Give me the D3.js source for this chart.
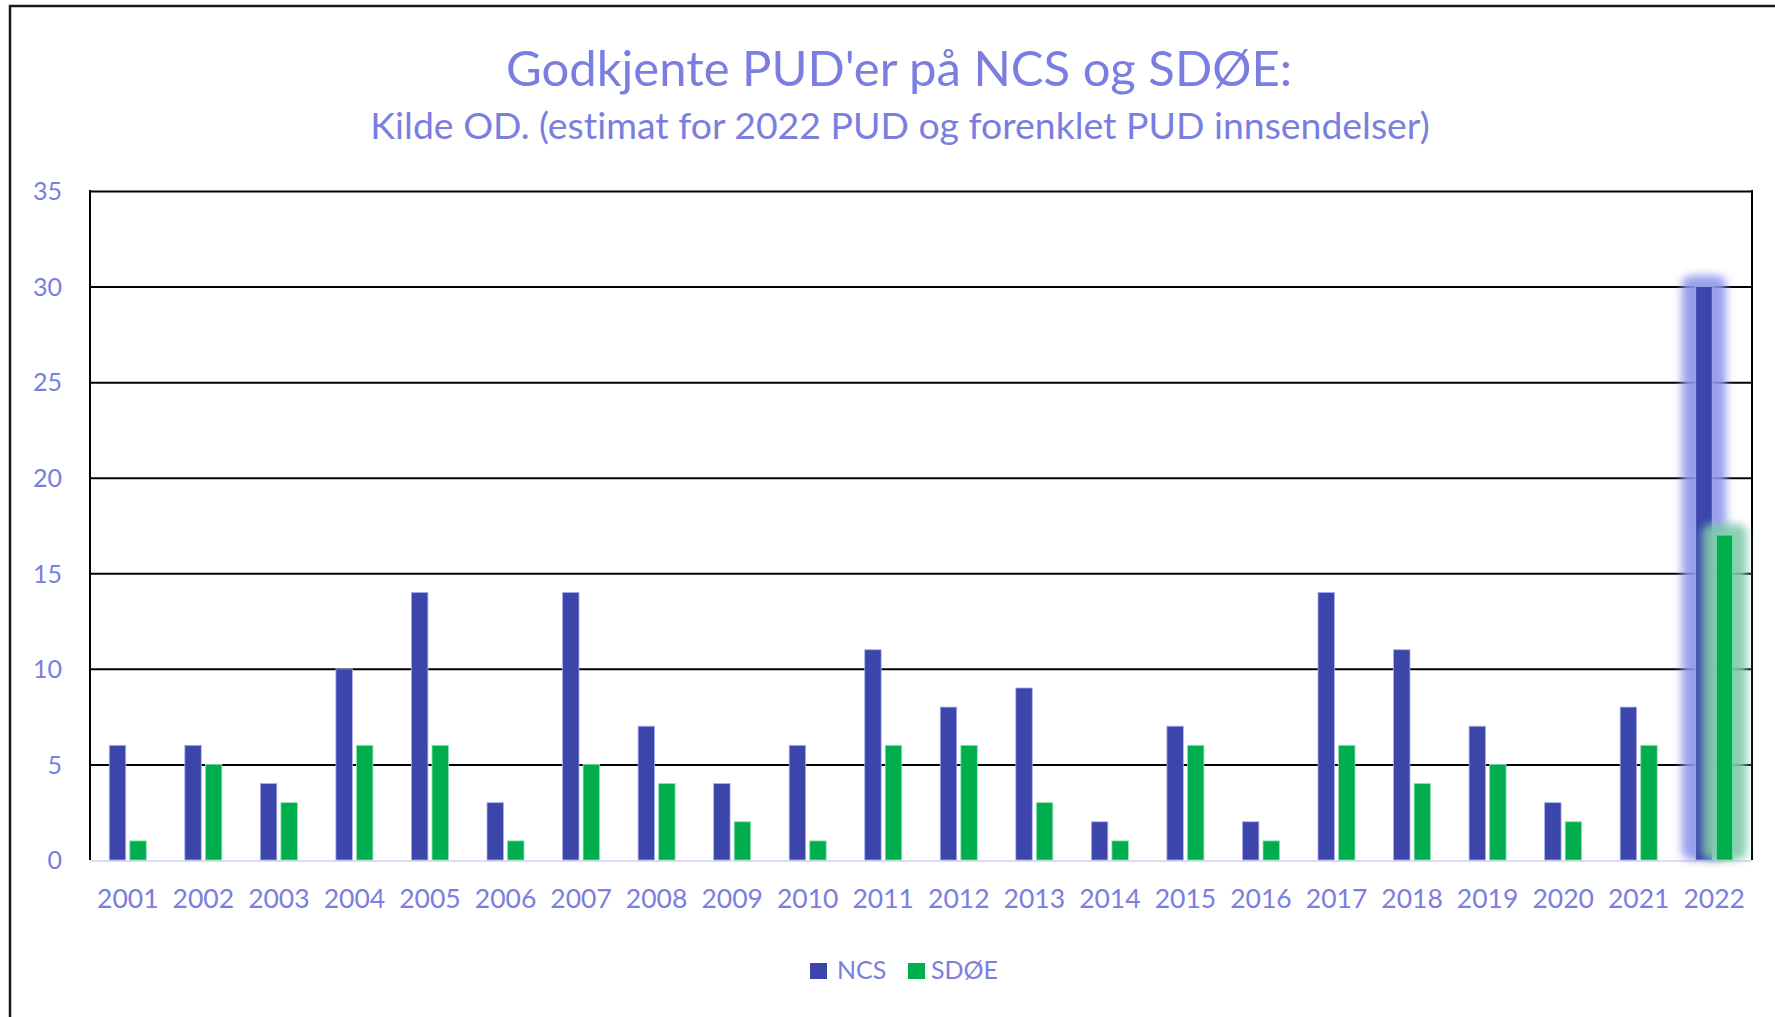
<!DOCTYPE html>
<html>
<head>
<meta charset="utf-8">
<script src="https://cdn.jsdelivr.net/npm/d3@7"></script>
<style>
  html, body { margin: 0; padding: 0; background: #fff; }
  svg { display: block; }
  text { font-family: Lato, "Open Sans", sans-serif; font-variant-ligatures: none; }
</style>
</head>
<body>
<svg id="chart" width="1775" height="1017"></svg>
<script>
// ---- data ----
const years = ["2001","2002","2003","2004","2005","2006","2007","2008","2009","2010","2011",
               "2012","2013","2014","2015","2016","2017","2018","2019","2020","2021","2022"];
const ncs  = [6, 6, 4, 10, 14, 3, 14, 7, 4, 6, 11, 8, 9, 2, 7, 2, 14, 11, 7, 3, 8, 30];
const sdoe = [1, 5, 3, 6, 6, 1, 5, 4, 2, 1, 6, 6, 3, 1, 6, 1, 6, 4, 5, 2, 6, 17];
const seriesNames = ["NCS", "SDØE"];
const yTicks = [0, 5, 10, 15, 20, 25, 30, 35];
const titleText = "Godkjente PUD'er på NCS og SDØE:";
const subtitleText = "Kilde OD. (estimat for 2022 PUD og forenklet PUD innsendelser)";
const highlightYear = "2022";

// ---- styles ----
const textColor = "#7a7ee0";
const colors = { "NCS": "#3b45aa", "SDØE": "#00ae4e" };
const glowColors = { "NCS": "#8e94ea", "SDØE": "#7fcaa9" };
const strokeColors = { "NCS": "#aab0f0", "SDØE": "#8fe0b4" };

const svg = d3.select("#chart");
const W = 1775, H = 1017;
const pLeft = 90, pRight = 1752, pTop = 191, pBottom = 860;

// outer frame
svg.append("rect").attr("x", 10).attr("y", 6).attr("width", W + 20).attr("height", H + 20)
   .attr("fill", "#fff").attr("stroke", "#1a1a1a").attr("stroke-width", 2.5);

// filters
const defs = svg.append("defs");
const f = defs.append("filter").attr("id", "glow").attr("x", "-100%").attr("y", "-20%")
   .attr("width", "300%").attr("height", "140%");
f.append("feGaussianBlur").attr("stdDeviation", 4);

// scales
const x = d3.scaleBand().domain(years).range([pLeft, pRight]).padding(0);
const xSub = d3.scaleBand().domain(seriesNames).range([0, 37]).paddingInner(0.2);
const y = d3.scaleLinear().domain([0, 35]).range([pBottom, pTop]);

// gridlines
const grid = svg.append("g").attr("transform", `translate(${pLeft},0)`)
  .call(d3.axisLeft(y).tickValues(yTicks.filter(t => t > 0)).tickSize(-(pRight - pLeft)).tickFormat(""));
grid.select(".domain").remove();
grid.selectAll(".tick line").attr("stroke", "#000").attr("stroke-width", 2);

// frame lines left & right
svg.append("line").attr("x1", pLeft).attr("x2", pLeft).attr("y1", pTop - 1).attr("y2", pBottom)
   .attr("stroke", "#000").attr("stroke-width", 2);
svg.append("line").attr("x1", pRight).attr("x2", pRight).attr("y1", pTop - 1).attr("y2", pBottom)
   .attr("stroke", "#000").attr("stroke-width", 2);

// baseline
svg.append("line").attr("x1", pLeft).attr("x2", pRight).attr("y1", pBottom + 1).attr("y2", pBottom + 1)
   .attr("stroke", "#dcdcf6").attr("stroke-width", 2);

// data rows
const rows = years.map((yr, i) => ({ year: yr, NCS: ncs[i], "SDØE": sdoe[i] }));

const barsG = svg.append("g");
rows.forEach(r => {
  const g0 = x(r.year) + x.bandwidth() / 2 - 18.5;
  seriesNames.forEach(s => {
    const bx = g0 + xSub(s), bw = xSub.bandwidth();
    const by = y(r[s]), bh = pBottom - y(r[s]);
    if (r.year === highlightYear) {
      barsG.append("rect")
        .attr("x", bx - 14).attr("y", by - 11).attr("width", bw + 28).attr("height", bh + 11)
        .attr("rx", 9).attr("fill", glowColors[s]).attr("opacity", 0.9)
        .attr("filter", "url(#glow)");
    }
    barsG.append("rect")
      .attr("x", bx).attr("y", by).attr("width", bw).attr("height", bh)
      .attr("fill", colors[s]).attr("stroke", strokeColors[s]).attr("stroke-width", 0.8);
  });
});

// y axis labels
const yAxis = svg.append("g").attr("transform", `translate(${pLeft},0)`)
  .call(d3.axisLeft(y).tickValues(yTicks).tickSize(0).tickPadding(28));
yAxis.select(".domain").remove();
yAxis.selectAll("text").attr("fill", textColor).attr("font-size", 25)
  .attr("font-family", "Lato, sans-serif").attr("dy", "0.35em");

// x axis labels
const xAxis = svg.append("g").attr("transform", `translate(0,${pBottom})`)
  .call(d3.axisBottom(x).tickSize(0).tickPadding(35));
xAxis.select(".domain").remove();
xAxis.selectAll("text").attr("fill", textColor).attr("font-size", 26.5)
  .attr("font-family", "Lato, sans-serif").attr("dy", "0.5em");

// title & subtitle, sized to match widths
function fitText(t, target) {
  const len = t.node().getComputedTextLength();
  const fs = parseFloat(t.attr("font-size"));
  t.attr("font-size", fs * target / len);
}
const title = svg.append("text").attr("x", 899).attr("y", 86).attr("text-anchor", "middle")
  .attr("fill", textColor).attr("font-size", 46).text(titleText);
fitText(title, 786);
const sub = svg.append("text").attr("x", 900).attr("y", 139).attr("text-anchor", "middle")
  .attr("fill", textColor).attr("font-size", 31).text(subtitleText);
fitText(sub, 1060);

// legend
const legendItems = [
  { name: "NCS", sx: 810, tx: 837 },
  { name: "SDØE", sx: 908, tx: 931 }
];
const lg = svg.append("g");
legendItems.forEach(it => {
  lg.append("rect").attr("x", it.sx).attr("y", 963).attr("width", 17).attr("height", 16)
    .attr("fill", colors[it.name]);
  lg.append("text").attr("x", it.tx).attr("y", 979).attr("fill", textColor)
    .attr("font-size", 25).text(it.name);
});
</script>
</body>
</html>
